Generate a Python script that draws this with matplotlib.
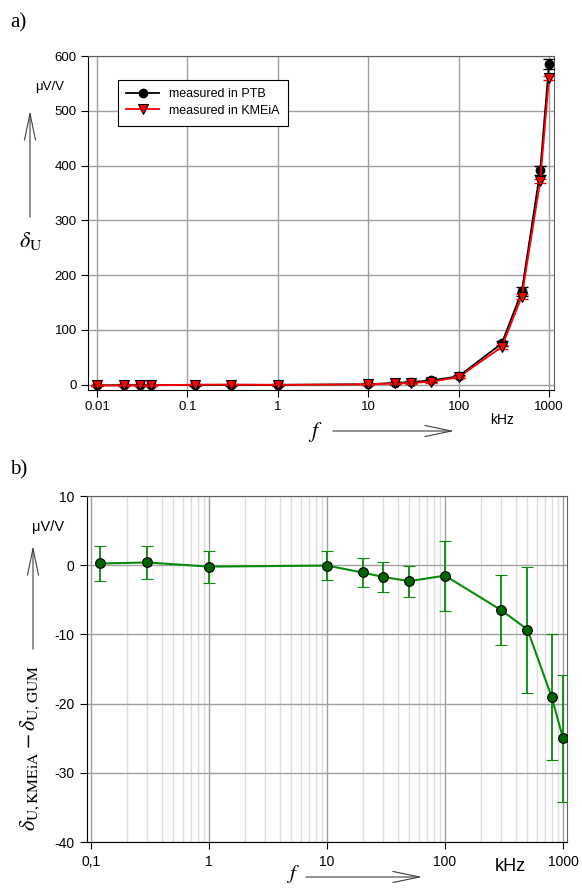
import matplotlib
matplotlib.use("Agg")
import matplotlib.pyplot as plt
from matplotlib.patches import FancyArrowPatch
from matplotlib.ticker import FixedLocator, FixedFormatter, LogLocator, NullFormatter

plt.rcParams['font.family'] = ['Liberation Sans', 'DejaVu Sans']
plt.rcParams['mathtext.fontset'] = 'stix'
plt.rcParams['axes.unicode_minus'] = False

# a) deviation measured in PTB and in KMEiA
f_top = [0.01, 0.02, 0.03, 0.04, 0.12, 0.3, 1, 10, 20, 30, 50, 100, 300, 500, 800, 1000]
ptb = [-1.5, -1.3, -1.2, -1.0, -0.6, -0.5, -0.5, 0.5, 3.0, 4.5, 7.5, 15.0, 75.0, 170.0, 391.0, 585.0]
ptb_err = [1.5, 1.5, 1.5, 1.5, 1.5, 1.5, 1.5, 1.5, 2, 2, 2, 2.5, 4, 8, 9, 9]
kmeia = [-1.6, -1.5, -1.4, -1.3, -0.35, -0.1, -0.7, 0.45, 1.95, 2.8, 5.2, 13.5, 68.5, 160.7, 372.0, 560.0]
kmeia_err = [1, 1, 1, 1, 1, 1, 1, 1, 1.5, 1.5, 1.5, 2, 3, 4, 4, 4]
top_ticks = [0.01, 0.1, 1, 10, 100, 1000]
top_ticklabels = ['0.01', '0.1', '1', '10', '100', '1000']

# b) difference KMEiA - GUM
f_bot = [0.12, 0.3, 1, 10, 20, 30, 50, 100, 300, 500, 800, 1000]
diff = [0.25, 0.4, -0.2, -0.05, -1.05, -1.7, -2.3, -1.5, -6.5, -9.3, -19.0, -25.0]
diff_err = [2.5, 2.45, 2.3, 2.05, 2.05, 2.1, 2.25, 5.05, 5.1, 9.1, 9.1, 9.2]
bot_ticks = [0.1, 1, 10, 100, 1000]
bot_ticklabels = ['0,1', '1', '10', '100', '1000']


def arrow(x0, y0, x1, y1):
    # open-headed arrow in pixel coords (from the top-left corner)
    fig.add_artist(FancyArrowPatch(
        (x0 / 582, 1 - y0 / 888), (x1 / 582, 1 - y1 / 888), transform=fig.transFigure,
        arrowstyle='->,head_length=2.4,head_width=0.5', mutation_scale=8,
        color='#404040', lw=0.8))


fig = plt.figure(figsize=(5.82, 8.88), dpi=100)

# ---- top panel ----
ax1 = fig.add_axes([0.1512, 0.5608, 0.8007, 0.3761])
ax1.errorbar(f_top, ptb, yerr=ptb_err, fmt='none', ecolor='black',
             capsize=4, elinewidth=1, zorder=3)
ax1.plot(f_top, ptb, color='black', marker='o', ms=6, mfc='black', mec='black',
         lw=1.3, label='measured in PTB', zorder=3)
ax1.errorbar(f_top, kmeia, yerr=kmeia_err, fmt='none', ecolor='#ff0000',
             capsize=4, elinewidth=1, zorder=4)
ax1.plot(f_top, kmeia, color='#ff0000', marker='v', ms=6.5, mfc='#ff0000',
         mec='black', mew=0.8, lw=1.3, label='measured in KMEiA', zorder=4)
ax1.set_xscale('log')
ax1.set_xlim(0.00795, 1136)
ax1.set_ylim(-10, 600)
ax1.xaxis.set_major_locator(FixedLocator(top_ticks))
ax1.xaxis.set_major_formatter(FixedFormatter(top_ticklabels))
ax1.xaxis.set_minor_locator(FixedLocator([]))
ax1.set_yticks([0, 100, 200, 300, 400, 500, 600])
ax1.grid(True, which='major', color='#a0a0a0', lw=1)
ax1.set_axisbelow(True)
ax1.tick_params(labelsize=9.5, length=5, width=0.8, pad=3)
for s in ['top', 'right']:
    ax1.spines[s].set_color('#606060')
leg = ax1.legend(loc='upper left', bbox_to_anchor=(0.05, 0.948), fontsize=9,
                 frameon=True, fancybox=False, edgecolor='black', framealpha=1,
                 handlelength=2.6, borderpad=0.7, labelspacing=0.35)
leg.get_frame().set_linewidth(0.8)

fig.text(0.018, 0.974, 'a)', fontsize=15, family='Liberation Serif', va='center')
fig.text(0.085, 0.902, 'μV/V', fontsize=9.5, ha='center', va='center')
fig.text(0.052, 0.729, r'$\delta_{\mathrm{U}}$', fontsize=16, ha='center', va='center')
arrow(30, 220, 30, 108)
fig.text(0.863, 1 - 420 / 888, 'kHz', fontsize=10, ha='center', va='center')
fig.text(0.541, 1 - 432 / 888, '$f$', fontsize=16, ha='center', va='center')
arrow(330, 431, 457, 431)

# ---- bottom panel ----
green = '#0a8a0a'
ax2 = fig.add_axes([0.1495, 0.0518, 0.8247, 0.3896])
ax2.errorbar(f_bot, diff, yerr=diff_err, color=green, marker='o', ms=7,
             mfc='#006400', mec='black', mew=0.8, lw=1.5, capsize=4,
             elinewidth=1.3, ecolor=green, zorder=3)
ax2.set_xscale('log')
ax2.set_xlim(0.0925, 1081)
ax2.set_ylim(-40, 10)
ax2.xaxis.set_major_locator(FixedLocator(bot_ticks))
ax2.xaxis.set_major_formatter(FixedFormatter(bot_ticklabels))
ax2.xaxis.set_minor_locator(LogLocator(base=10, subs=range(2, 10)))
ax2.xaxis.set_minor_formatter(NullFormatter())
ax2.set_yticks([-40, -30, -20, -10, 0, 10])
ax2.grid(True, which='major', color='#a0a0a0', lw=1)
ax2.grid(True, which='minor', axis='x', color='#dcdcdc', lw=1)
ax2.set_axisbelow(True)
ax2.tick_params(which='major', labelsize=10, length=5, width=0.8, pad=4)
ax2.tick_params(which='minor', length=0)
for s in ['top', 'right']:
    ax2.spines[s].set_color('#606060')

fig.text(0.018, 1 - 470 / 888, 'b)', fontsize=15, family='Liberation Serif', va='center')
fig.text(0.082, 1 - 527 / 888, 'μV/V', fontsize=10.5, ha='center', va='center')
fig.text(0.052, 1 - 748 / 888, r'$\delta_{\mathrm{U,KMEiA}} - \delta_{\mathrm{U,GUM}}$',
         fontsize=16, ha='center', va='center', rotation=90)
arrow(33, 652, 33, 543)
fig.text(510 / 582, 1 - 866 / 888, 'kHz', fontsize=13, ha='center', va='center')
fig.text(293 / 582, 1 - 874 / 888, '$f$', fontsize=15, ha='center', va='center')
arrow(303, 877, 425, 877)

fig.savefig('out.png', dpi=100)
